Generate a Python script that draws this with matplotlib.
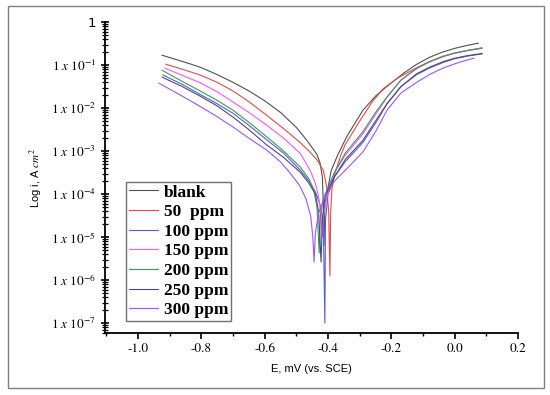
import matplotlib.pyplot as plt
from matplotlib.patches import Rectangle
from matplotlib.ticker import LogLocator, NullFormatter

plt.rcParams['mathtext.fontset'] = 'stix'

# series labels and colours
labels = ['blank', '50  ppm', '100 ppm', '150 ppm', '200 ppm', '250 ppm', '300 ppm']
colors = ['#505050', '#e84a4a', '#5a5ae0', '#ff55ff', '#3d9a55', '#4a4a78', '#9955ff']

# potential (V vs SCE) and log10 current for each curve (cathodic + anodic)
blank_E = [-0.924, -0.88, -0.836, -0.80, -0.75, -0.70, -0.65, -0.60, -0.55, -0.50, -0.47, -0.45,
           -0.435, -0.425, -0.418, -0.415, -0.413,
           -0.41, -0.405, -0.40, -0.39, -0.37, -0.34, -0.29, -0.25, -0.21, -0.16, -0.12,
           -0.08, -0.04, 0.0, 0.04, 0.074]
blank_logi = [-0.77, -0.87, -0.97, -1.06, -1.22, -1.40, -1.60, -1.83, -2.10, -2.45, -2.72, -2.92,
              -3.08, -3.28, -3.60, -4.20, -5.20,
              -4.30, -4.00, -3.85, -3.45, -3.10, -2.65, -2.05, -1.72, -1.47, -1.18, -0.98,
              -0.82, -0.70, -0.61, -0.54, -0.49]

ppm50_E = [-0.912, -0.85, -0.804, -0.75, -0.70, -0.65, -0.593, -0.54, -0.488, -0.46, -0.435,
           -0.415, -0.405, -0.398, -0.394,
           -0.392, -0.388, -0.38, -0.36, -0.346, -0.30, -0.26, -0.226, -0.18, -0.12, -0.08,
           -0.04, 0.0, 0.04, 0.086]
ppm50_logi = [-0.98, -1.12, -1.23, -1.40, -1.60, -1.85, -2.17, -2.48, -2.80, -3.00, -3.20,
              -3.45, -3.80, -4.40, -5.90,
              -4.50, -3.90, -3.55, -3.10, -2.85, -2.30, -1.85, -1.55, -1.30, -1.06, -0.92,
              -0.80, -0.72, -0.66, -0.60]

ppm100_E = [-0.921, -0.86, -0.804, -0.75, -0.70, -0.65, -0.593, -0.54, -0.488, -0.46, -0.44,
            -0.425, -0.415, -0.41,
            -0.408, -0.40, -0.394, -0.38, -0.346, -0.29, -0.25, -0.214, -0.17, -0.12, -0.08,
            -0.037, 0.0, 0.04, 0.086]
ppm100_logi = [-1.23, -1.45, -1.68, -1.90, -2.12, -2.40, -2.74, -3.05, -3.44, -3.70, -3.95,
               -4.25, -4.70, -7.00,
               -4.60, -4.00, -3.90, -3.60, -3.25, -2.80, -2.35, -1.90, -1.50, -1.22, -1.07,
               -0.94, -0.85, -0.79, -0.74]

ppm150_E = [-0.915, -0.86, -0.804, -0.75, -0.70, -0.65, -0.593, -0.54, -0.488, -0.457, -0.44,
            -0.43, -0.422, -0.418,
            -0.415, -0.405, -0.394, -0.38, -0.346, -0.29, -0.25, -0.214, -0.17, -0.12, -0.08,
            -0.037, 0.0, 0.04, 0.086]
ppm150_logi = [-1.07, -1.24, -1.41, -1.62, -1.86, -2.10, -2.40, -2.70, -3.05, -3.44, -3.75,
               -4.05, -4.50, -5.00,
               -4.50, -4.10, -3.85, -3.50, -3.10, -2.60, -2.15, -1.75, -1.35, -1.08, -0.93,
               -0.80, -0.72, -0.66, -0.60]

ppm200_E = [-0.924, -0.86, -0.804, -0.75, -0.70, -0.65, -0.593, -0.54, -0.488, -0.46, -0.445,
            -0.435, -0.428,
            -0.424, -0.415, -0.40, -0.38, -0.346, -0.29, -0.25, -0.214, -0.17, -0.12, -0.08,
            -0.037, 0.0, 0.04, 0.086]
ppm200_logi = [-1.12, -1.38, -1.60, -1.82, -2.05, -2.33, -2.67, -3.00, -3.37, -3.65, -3.90,
               -4.30, -5.37,
               -4.50, -4.10, -3.85, -3.50, -3.05, -2.55, -2.10, -1.74, -1.35, -1.07, -0.92,
               -0.80, -0.72, -0.66, -0.61]

ppm250_E = [-0.924, -0.86, -0.804, -0.75, -0.70, -0.65, -0.593, -0.54, -0.488, -0.46, -0.44,
            -0.43, -0.422,
            -0.418, -0.41, -0.40, -0.38, -0.346, -0.29, -0.25, -0.214, -0.17, -0.12, -0.08,
            -0.037, 0.0, 0.04, 0.086]
ppm250_logi = [-1.28, -1.50, -1.72, -1.95, -2.21, -2.50, -2.86, -3.15, -3.49, -3.75, -4.00,
               -4.40, -5.58,
               -4.60, -4.10, -3.90, -3.60, -3.20, -2.75, -2.30, -1.90, -1.50, -1.20, -1.05,
               -0.92, -0.84, -0.78, -0.73]

ppm300_E = [-0.934, -0.87, -0.804, -0.75, -0.70, -0.65, -0.593, -0.55, -0.52, -0.49, -0.47,
            -0.455, -0.448, -0.444,
            -0.44, -0.43, -0.415, -0.40, -0.38, -0.346, -0.29, -0.25, -0.214, -0.17, -0.12,
            -0.08, -0.037, 0.0, 0.03, 0.061]
ppm300_logi = [-1.42, -1.68, -1.96, -2.20, -2.44, -2.70, -2.98, -3.25, -3.51, -3.80, -4.10,
               -4.50, -5.00, -5.58,
               -4.90, -4.45, -4.15, -3.95, -3.70, -3.45, -3.02, -2.55, -2.05, -1.65, -1.40,
               -1.22, -1.07, -0.97, -0.90, -0.84]

series_E = [blank_E, ppm50_E, ppm100_E, ppm150_E, ppm200_E, ppm250_E, ppm300_E]
series_logi = [blank_logi, ppm50_logi, ppm100_logi, ppm150_logi, ppm200_logi, ppm250_logi, ppm300_logi]

y_ticks = [1, 1e-1, 1e-2, 1e-3, 1e-4, 1e-5, 1e-6, 1e-7]
y_labels = ['1'] + [r'$1\ x\ 10^{-%d}$' % k for k in range(1, 8)]
x_ticks = [-1.0, -0.8, -0.6, -0.4, -0.2, 0.0, 0.2]

fig = plt.figure(figsize=(5.5, 3.95), dpi=100)
ax = fig.add_axes([0.191, 0.157, 0.751, 0.787])

for E, li, lab, c in zip(series_E, series_logi, labels, colors):
    ax.plot(E, [10 ** v for v in li], color=c, lw=0.8, label=lab)

ax.set_yscale('log')
ax.set_ylim(10 ** -7.23, 1)
ax.set_xlim(-1.104, 0.2)

ax.set_yticks(y_ticks)
ax.set_yticklabels(y_labels, fontsize=9.5)
ax.yaxis.set_minor_locator(LogLocator(base=10, subs=range(2, 10), numticks=20))
ax.yaxis.set_minor_formatter(NullFormatter())
ax.set_xticks(x_ticks)
ax.set_xticklabels(['%.1f' % t for t in x_ticks], fontsize=9.5, family='STIXGeneral')
ax.set_xticks([-1.1, -0.9, -0.7, -0.5, -0.3, -0.1, 0.1], minor=True)

ax.tick_params(axis='y', which='major', direction='inout', length=6, width=1.2)
ax.tick_params(axis='y', which='minor', direction='inout', length=4, width=0.9)
ax.tick_params(axis='x', which='major', direction='out', length=4, width=1.2)
ax.tick_params(axis='x', which='minor', direction='out', length=2.5, width=1.0)

for s in ['top', 'right']:
    ax.spines[s].set_visible(False)
for s in ['left', 'bottom']:
    ax.spines[s].set_linewidth(1.3)

ax.set_xlabel('E, mV (vs. SCE)', fontsize=8, family='Liberation Sans', labelpad=6)
ax.set_ylabel(r'Log i, A $cm^2$', fontsize=8, family='Liberation Sans', labelpad=4)

leg = ax.legend(loc='lower left', bbox_to_anchor=(0.051, 0.039), borderaxespad=0,
                prop={'family': 'Liberation Serif', 'weight': 'bold', 'size': 12.5},
                frameon=True, fancybox=False, edgecolor='#707070', framealpha=1,
                handlelength=1.7, handletextpad=0.35, labelspacing=0.2, borderpad=0.15)
leg.get_frame().set_linewidth(1.0)

# outer grey frame around the figure
fig.patches.append(Rectangle((8 / 550, 7 / 395), 536 / 550, 382 / 395, transform=fig.transFigure,
                             fill=False, edgecolor='#808080', lw=1.0))

fig.savefig('out.png', dpi=100)
